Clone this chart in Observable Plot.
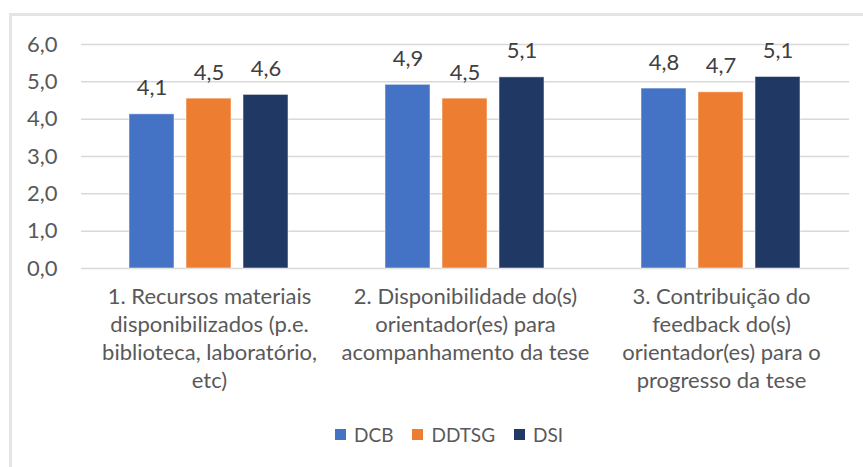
<!DOCTYPE html>
<html>
<head>
<meta charset="utf-8">
<script src="https://cdn.jsdelivr.net/npm/d3@7"></script>
<script src="https://cdn.jsdelivr.net/npm/@observablehq/plot@0.6"></script>
<style>
  html, body { margin: 0; padding: 0; background: #fff; }
  #wrap { position: relative; width: 863px; height: 467px; overflow: hidden; font-family: Lato, sans-serif; }
  #frame { position: absolute; left: 9px; top: 13px; width: 900px; height: 500px; border-left: 3px solid #e4e4e4; border-top: 3px solid #e4e4e4; box-sizing: border-box; z-index: 2; pointer-events: none; }
  #chart { position: absolute; left: 0; top: 0; z-index: 1; }
  #legend { position: absolute; left: 335px; top: 423px; display: flex; align-items: center; font-size: 19px; color: #595959; z-index: 1; }
  .item { display: flex; align-items: center; margin-right: 19px; }
  .sw { width: 11px; height: 11px; margin-right: 8px; }
</style>
</head>
<body>
<div id="wrap"><div id="chart"></div><div id="legend"></div><div id="frame"></div></div>
<script>
const categories = [
  "1. Recursos materiais\ndisponibilizados (p.e.\nbiblioteca, laboratório,\netc)",
  "2. Disponibilidade do(s)\norientador(es) para\nacompanhamento da tese",
  "3. Contribuição do\nfeedback do(s)\norientador(es) para o\nprogresso da tese"
];
const series = ["DCB", "DDTSG", "DSI"];
const colors = ["#4472C4", "#ED7D31", "#203864"];
const valuesDCB = [4.13, 4.92, 4.82];
const valuesDDTSG = [4.55, 4.55, 4.72];
const valuesDSI = [4.65, 5.12, 5.13];
const labelsDCB = ["4,1", "4,9", "4,8"];
const labelsDDTSG = ["4,5", "4,5", "4,7"];
const labelsDSI = ["4,6", "5,1", "5,1"];
const yTicks = [0, 1, 2, 3, 4, 5, 6];

const valueSets = [valuesDCB, valuesDDTSG, valuesDSI];
const labelSets = [labelsDCB, labelsDDTSG, labelsDSI];
const data = [];
categories.forEach((c, i) => series.forEach((s, j) => {
  data.push({category: c, series: s, value: valueSets[j][i], label: labelSets[j][i]});
}));

const fmt = d => d.toFixed(1).replace(".", ",");

const chart = Plot.plot({
  width: 863,
  height: 410,
  marginLeft: 80,
  marginRight: 14,
  marginTop: 44,
  marginBottom: 142,
  style: {fontFamily: "Lato, sans-serif", fontSize: "22px", color: "#595959", background: "transparent"},
  fx: {domain: categories, padding: 0, label: null, axis: null},
  x: {domain: series, paddingInner: 0.21, paddingOuter: 0.85, axis: null},
  y: {domain: [0, 6], ticks: yTicks, label: null, axis: null},
  color: {domain: series, range: colors},
  marks: [
    Plot.gridY(yTicks, {stroke: "#d9d9d9", strokeOpacity: 1, strokeWidth: 1.5}),
    Plot.axisY(yTicks, {tickSize: 0, tickPadding: 24, tickFormat: fmt, fontSize: 22, fill: "#595959", label: null}),
    Plot.axisFx({anchor: "bottom", tickSize: 0, tickPadding: 16, lineHeight: 1.27, fontSize: 22, fill: "#595959", label: null}),
    Plot.barY(data, {fx: "category", x: "series", y: "value", fill: "series", stroke: "#ffffff", strokeOpacity: 0.5, strokeWidth: 1}),
    Plot.text(data, {fx: "category", x: "series", y: "value", text: "label", dy: -26, fontSize: 22, fill: "#404040"})
  ]
});
document.getElementById("chart").appendChild(chart);

const legend = document.getElementById("legend");
series.forEach((s, i) => {
  const it = document.createElement("div");
  it.className = "item";
  const sw = document.createElement("div");
  sw.className = "sw";
  sw.style.background = colors[i];
  const tx = document.createElement("span");
  tx.textContent = s;
  it.appendChild(sw); it.appendChild(tx);
  legend.appendChild(it);
});
</script>
</body>
</html>
